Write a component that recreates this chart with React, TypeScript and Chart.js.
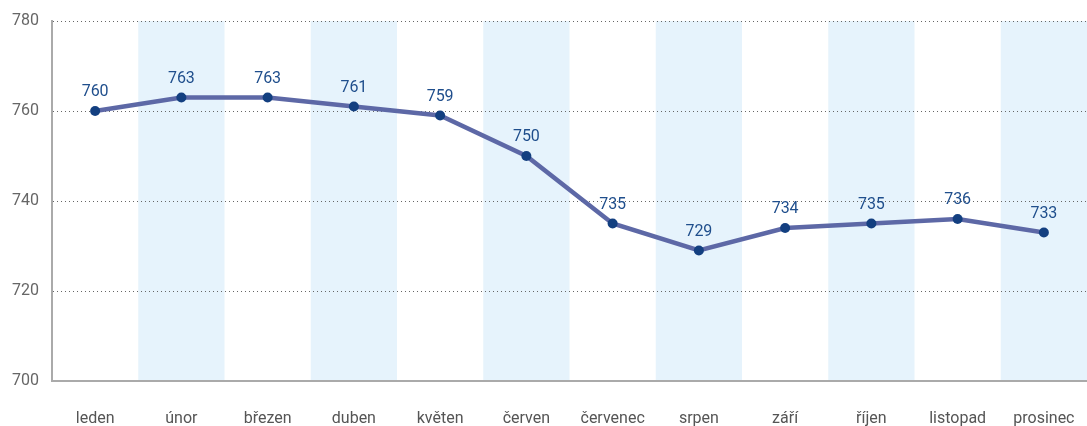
import React, { useEffect, useRef } from "react";
import { Chart, registerables } from "chart.js";

Chart.register(...registerables);

const months = ["leden", "únor", "březen", "duben", "květen", "červen", "červenec", "srpen", "září", "říjen", "listopad", "prosinec"];
const values = [760, 763, 763, 761, 759, 750, 735, 729, 734, 735, 736, 733];
const shadedIndices = [1, 3, 5, 7, 9, 11];
const yTicks = [700, 720, 740, 760, 780];

const shadePlugin = {
  id: "shade",
  beforeDraw(chart: any) {
    const { ctx, chartArea, scales } = chart;
    const x = scales.x;
    const w = (chartArea.right - chartArea.left) / months.length;
    ctx.save();
    ctx.fillStyle = "#e6f3fc";
    shadedIndices.forEach((i) => {
      const cx = x.getPixelForValue(i);
      ctx.fillRect(cx - w / 2, chartArea.top, w, chartArea.bottom - chartArea.top);
    });
    ctx.restore();
  },
};

const labelPlugin = {
  id: "pointLabels",
  afterDatasetsDraw(chart: any) {
    const { ctx } = chart;
    const meta = chart.getDatasetMeta(0);
    ctx.save();
    ctx.fillStyle = "#1f4e8c";
    ctx.font = "16px Roboto";
    ctx.textAlign = "center";
    ctx.textBaseline = "bottom";
    meta.data.forEach((pt: any, i: number) => {
      ctx.fillText(String(values[i]), pt.x, pt.y - 11);
    });
    ctx.restore();
  },
};

export default function App() {
  const ref = useRef<HTMLCanvasElement>(null);
  useEffect(() => {
    document.body.style.margin = "0";
    const chart = new Chart(ref.current!, {
      type: "line",
      data: {
        labels: months,
        datasets: [
          {
            data: values,
            borderColor: "#5d68a6",
            borderWidth: 4.5,
            pointRadius: 5,
            pointHoverRadius: 5,
            pointBackgroundColor: "#133f80",
            pointBorderColor: "#133f80",
            pointBorderWidth: 0,
            tension: 0,
            clip: false,
          } as any,
        ],
      },
      options: {
        animation: false,
        responsive: true,
        maintainAspectRatio: false,
        layout: { autoPadding: false, padding: { top: 8, right: 0, left: 0, bottom: 0 } } as any,
        plugins: { legend: { display: false }, tooltip: { enabled: false } },
        scales: {
          x: {
            offset: true,
            grid: { display: true, drawOnChartArea: false, drawTicks: true, tickLength: 28, tickColor: "rgba(0,0,0,0)" } as any,
            border: { color: "#aaaaaa", width: 2 },
            ticks: { color: "#555555", font: { size: 16, family: "Roboto" }, padding: 0, maxRotation: 0, autoSkip: false },
            afterFit(scale: any) {
              scale.height = 45;
            },
          },
          y: {
            min: 700,
            max: 780,
            afterBuildTicks(scale: any) {
              scale.ticks = yTicks.map((v) => ({ value: v }));
            },
            grid: { color: "#666666", lineWidth: 1, drawTicks: false } as any,
            border: { color: "#aaaaaa", width: 2, dash: [1, 3] } as any,
            ticks: { color: "#666666", font: { size: 16, family: "Roboto", lineHeight: 1 }, padding: 13 },
            afterFit(scale: any) {
              scale.width = 52;
            },
          },
        },
      },
      plugins: [shadePlugin, labelPlugin],
    });
    return () => chart.destroy();
  }, []);
  return (
    <div style={{ width: 1087, height: 426, position: "relative" }}>
      <canvas ref={ref} />
    </div>
  );
}
